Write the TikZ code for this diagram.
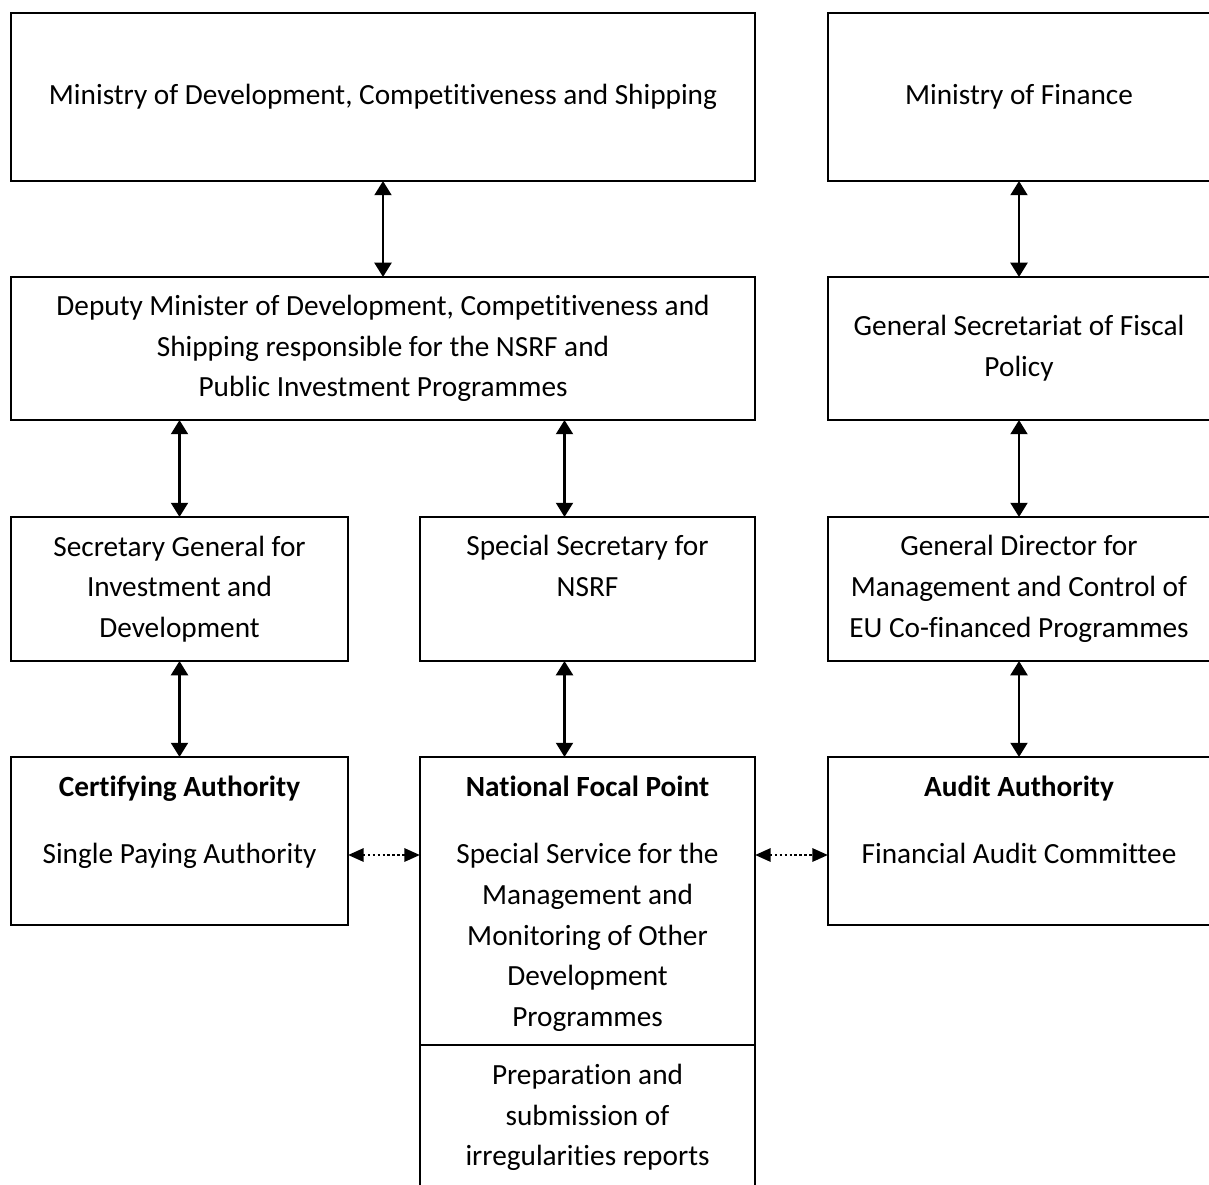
\documentclass[tikz,border=0pt]{standalone}
\usepackage{fontspec}
\setmainfont[Ligatures=NoCommon]{Carlito}
\usetikzlibrary{arrows.meta,positioning}
\newcommand{\pxu}{0.386pt}

\begin{document}
\begin{tikzpicture}[x=\pxu, y=-\pxu,
    box/.style={draw, line width=0.9pt, inner sep=0pt, outer sep=0pt, align=center,
        font=\fontsize{11.3}{15.7}\selectfont},
    boxsize/.style 2 args={minimum width=#1*\pxu, minimum height=#2*\pxu},
    boxtext/.style={inner sep=0pt, align=center, font=\fontsize{11.3}{15.7}\selectfont},
    link/.style={{Triangle[length=5.5pt, width=6.5pt]}-{Triangle[length=5.5pt, width=6.5pt]}, line width=1pt},
    sidelink/.style={{Triangle[length=6pt, width=5pt]}-{Triangle[length=6pt, width=5pt]},
        line width=1.1pt, dash pattern=on 1pt off 0.9pt}]
    \useasboundingbox (0,0) rectangle (1209,1185);

    % Ministries
    \node[box, boxsize={744}{168}] (dev) at (383,97) {Ministry of Development, Competitiveness and Shipping};
    \node[box, boxsize={382}{168}] (fin) at (1019,97) {Ministry of Finance};

    % Second level
    \node[box, boxsize={744}{143}] (dep) at (383,348.5) {Deputy Minister of Development, Competitiveness and\\Shipping responsible for the NSRF and\\Public Investment Programmes};
    \node[box, boxsize={382}{143}] (fisc) at (1019,348.5) {General Secretariat of Fiscal\\Policy};

    % Third level
    \node[box, boxsize={337}{144}] (secgen) at (179.5,589) {Secretary General for\\Investment and\\Development};
    \node[box, boxsize={335}{144}] (spec) at (587.5,589) {};
    \node[boxtext, anchor=north, yshift=-18*\pxu] (spectext) at (spec.north) {Special Secretary for\\NSRF};
    \node[box, boxsize={382}{144}] (gendir) at (1019,589) {General Director for\\Management and Control of\\EU Co-financed Programmes};

    % Authorities
    \node[box, boxsize={337}{168}] (cert) at (179.5,841) {};
    \node[boxtext, anchor=north, yshift=-18*\pxu] (certtext) at (cert.north) {\textbf{Certifying Authority}\\[10.5pt]Single Paying Authority};
    \node[box, boxsize={335}{288}] (focal) at (587.5,901) {};
    \node[boxtext, anchor=north, yshift=-18*\pxu] (focaltext) at (focal.north) {\textbf{National Focal Point}\\[10.5pt]Special Service for the\\Management and\\Monitoring of Other\\Development\\Programmes};
    \node[box, boxsize={335}{145}] (irreg) at (587.5,1117.5) {Preparation and\\submission of\\irregularities reports};
    \node[box, boxsize={382}{168}] (audit) at (1019,841) {};
    \node[boxtext, anchor=north, yshift=-18*\pxu] (audittext) at (audit.north) {\textbf{Audit Authority}\\[10.5pt]Financial Audit Committee};

    % Vertical links
    \coordinate (specup) at ([xshift=-23*\pxu]spec.north);
    \coordinate (specdown) at ([xshift=-23*\pxu]spec.south);
    \draw[link] (dev.south) -- (dep.north);
    \draw[link] (fin.south) -- (fisc.north);
    \draw[link] (secgen.north |- dep.south) -- (secgen.north);
    \draw[link] (specup |- dep.south) -- (specup);
    \draw[link] (fisc.south) -- (gendir.north);
    \draw[link] (secgen.south) -- (cert.north);
    \draw[link] (specdown) -- (specdown |- focal.north);
    \draw[link] (gendir.south) -- (audit.north);

    % Dotted side links
    \coordinate (certside) at ([yshift=-14*\pxu]cert.east);
    \coordinate (auditside) at ([yshift=-14*\pxu]audit.west);
    \draw[sidelink] (certside) -- (certside -| focal.west);
    \draw[sidelink] (focal.east |- auditside) -- (auditside);
\end{tikzpicture}
\end{document}
